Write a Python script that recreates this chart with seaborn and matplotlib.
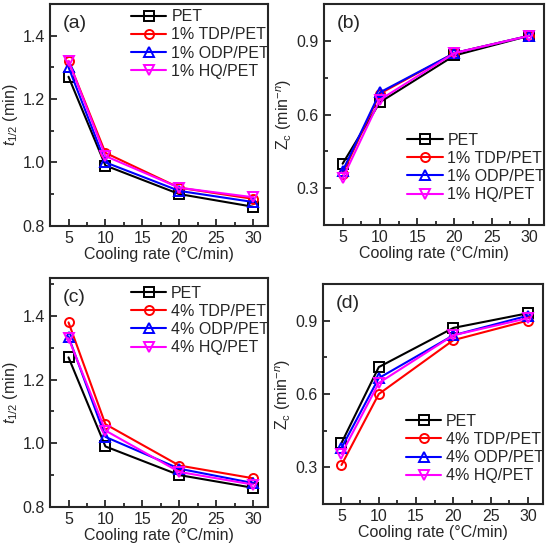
import numpy as np
import pandas as pd
import matplotlib
matplotlib.use("Agg")
import matplotlib.pyplot as plt
import seaborn as sns
from matplotlib.ticker import MultipleLocator

sns.set_style("ticks")
plt.rcParams['font.family'] = ['Liberation Sans', 'DejaVu Sans']
plt.rcParams['mathtext.fontset'] = 'custom'
plt.rcParams['mathtext.rm'] = 'Liberation Sans'
plt.rcParams['mathtext.it'] = 'Liberation Sans:italic'

# Datos
velocidad = [5, 10, 20, 30]

t_pet = [1.27, 0.99, 0.90, 0.86]
t_tdp1 = [1.32, 1.03, 0.92, 0.885]
t_odp1 = [1.30, 1.00, 0.91, 0.875]
t_hq1 = [1.32, 1.02, 0.92, 0.89]

z_pet1 = [0.40, 0.65, 0.84, 0.92]
z_tdp1 = [0.36, 0.685, 0.85, 0.92]
z_odp1 = [0.37, 0.69, 0.85, 0.92]
z_hq1 = [0.34, 0.66, 0.85, 0.92]

t_tdp4 = [1.38, 1.06, 0.93, 0.89]
t_odp4 = [1.335, 1.02, 0.92, 0.875]
t_hq4 = [1.33, 1.04, 0.91, 0.87]

z_pet4 = [0.40, 0.71, 0.87, 0.93]
z_tdp4 = [0.31, 0.60, 0.82, 0.90]
z_odp4 = [0.38, 0.665, 0.84, 0.92]
z_hq4 = [0.355, 0.645, 0.84, 0.91]

etiquetas1 = ['PET', '1% TDP/PET', '1% ODP/PET', '1% HQ/PET']
etiquetas4 = ['PET', '4% TDP/PET', '4% ODP/PET', '4% HQ/PET']
colores = ['black', 'red', 'blue', 'magenta']
marcadores = ['s', 'o', '^', 'v']


def dibujar(ax, series, etiquetas, ylim, ymaj, ymin, ylabel, letra, loc, anchor):
    for y, lab, c, m in zip(series, etiquetas, colores, marcadores):
        df = pd.DataFrame({'x': velocidad, 'y': y})
        sns.lineplot(data=df, x='x', y='y', ax=ax, color=c, marker=m,
                     markersize=6.5, markerfacecolor='none', markeredgecolor=c,
                     markeredgewidth=1.4, linewidth=1.5, label=lab)
    ax.set_xlim(2.5, 32)
    ax.set_ylim(*ylim)
    ax.xaxis.set_major_locator(MultipleLocator(5))
    ax.xaxis.set_minor_locator(MultipleLocator(2.5))
    ax.yaxis.set_major_locator(MultipleLocator(ymaj))
    ax.yaxis.set_minor_locator(MultipleLocator(ymin))
    ax.tick_params(which='both', direction='in', labelsize=11.5)
    ax.tick_params(which='major', length=5, width=1.3)
    ax.tick_params(which='minor', length=3, width=1.3)
    for s in ax.spines.values():
        s.set_linewidth(1.5)
    ax.set_xlabel("Cooling rate (°C/min)", fontsize=11.5, labelpad=1)
    ax.set_ylabel(ylabel, fontsize=11.5, labelpad=2)
    ax.text(0.06, 0.95, letra, transform=ax.transAxes, fontsize=14,
            va='top', ha='left')
    ax.legend(loc=loc, bbox_to_anchor=anchor, frameon=False, fontsize=11.5,
              handlelength=2.2, handletextpad=0.3, labelspacing=0.2,
              borderaxespad=0.0, borderpad=0.2)


fig = plt.figure(figsize=(5.5, 5.48), dpi=100)
ax_a = fig.add_axes([0.091, 0.588, 0.396, 0.405])
ax_b = fig.add_axes([0.589, 0.589, 0.400, 0.404])
ax_c = fig.add_axes([0.091, 0.075, 0.396, 0.418])
ax_d = fig.add_axes([0.587, 0.080, 0.400, 0.402])

t_label = r"$t_{1/2}$ (min)"
z_label = r"Z$_\mathrm{c}$ (min$^{-n}$)"

dibujar(ax_a, [t_pet, t_tdp1, t_odp1, t_hq1], etiquetas1, (0.8, 1.5), 0.2, 0.1,
        t_label, "(a)", 'upper right', (1.02, 0.99))
dibujar(ax_b, [z_pet1, z_tdp1, z_odp1, z_hq1], etiquetas1, (0.15, 1.05), 0.3, 0.15,
        z_label, "(b)", 'lower right', (1.02, 0.09))
dibujar(ax_c, [t_pet, t_tdp4, t_odp4, t_hq4], etiquetas4, (0.8, 1.52), 0.2, 0.1,
        t_label, "(c)", 'upper right', (1.02, 0.98))
dibujar(ax_d, [z_pet4, z_tdp4, z_odp4, z_hq4], etiquetas4, (0.15, 1.05), 0.3, 0.15,
        z_label, "(d)", 'lower right', (1.02, 0.08))

fig.savefig("out.png", dpi=100)
